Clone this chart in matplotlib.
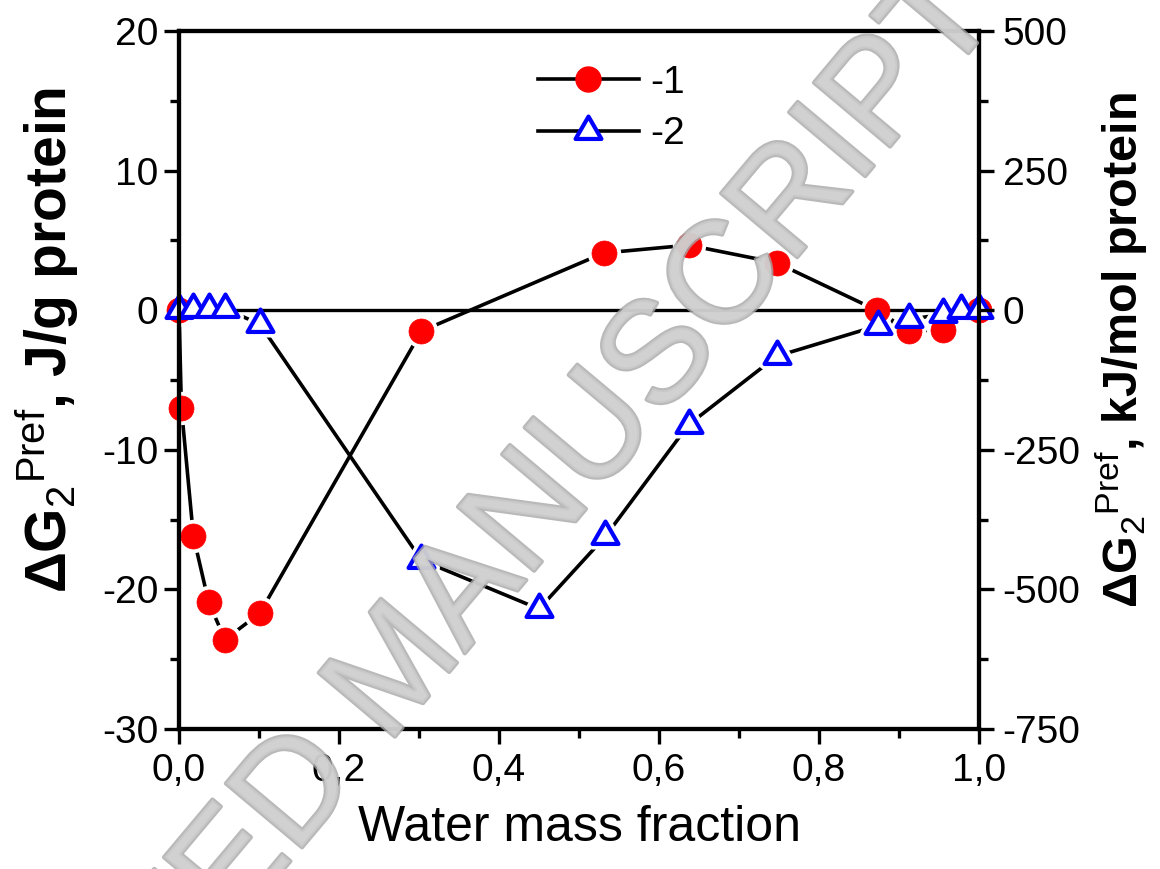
import matplotlib
matplotlib.use('Agg')
import matplotlib.pyplot as plt
import matplotlib.patheffects as pe
from matplotlib.path import Path
from matplotlib.ticker import MultipleLocator

plt.rcParams['font.family'] = ['Liberation Sans', 'DejaVu Sans']
plt.rcParams['mathtext.fontset'] = 'custom'
plt.rcParams['mathtext.rm'] = 'Liberation Sans'
plt.rcParams['mathtext.bf'] = 'Liberation Sans:bold'
plt.rcParams['mathtext.it'] = 'Liberation Sans:italic'
plt.rcParams['mathtext.sf'] = 'Liberation Sans'
plt.rcParams['axes.unicode_minus'] = False

# ---- data ----
x_series1 = [0.0, 0.003, 0.018, 0.037, 0.0575, 0.101, 0.303, 0.531, 0.637, 0.747, 0.872, 0.913, 0.955, 1.0]
y_series1 = [0.0, -7.0, -16.2, -20.9, -23.6, -21.7, -1.5, 4.1, 4.66, 3.4, 0.0, -1.5, -1.4, 0.0]

x_series2 = [0.0, 0.018, 0.037, 0.0575, 0.101, 0.303, 0.45, 0.533, 0.637, 0.747, 0.874, 0.913, 0.955, 0.978, 1.0]
y_series2 = [0.0, 0.1, 0.1, 0.1, -1.0, -17.9, -21.4, -16.2, -8.2, -3.3, -1.1, -0.65, -0.3, 0.0, 0.0]

series_labels = ['-1', '-2']

x_ticks = [0.0, 0.2, 0.4, 0.6, 0.8, 1.0]
x_tick_labels = ['0,0', '0,2', '0,4', '0,6', '0,8', '1,0']
y_left_ticks = [-30, -20, -10, 0, 10, 20]
y_right_ticks = [-750, -500, -250, 0, 250, 500]

x_label = 'Water mass fraction'
y_left_label = r'$\mathbf{\Delta G}_{\mathrm{2}}{}^{\mathrm{Pref}}$, J/g protein'
y_right_label = r'$\mathbf{\Delta G}_{\mathrm{2}}{}^{\mathrm{Pref}}$, kJ/mol protein'
watermark = 'ACCEPTED MANUSCRIPT'

# ---- figure ----
fig = plt.figure(figsize=(11.6, 8.69), dpi=100)
ax = fig.add_axes([179/1160, 1-729/869, 800/1160, 698/869])

tri = Path([(0, 1), (-0.866, -0.5), (0.866, -0.5), (0, 1)],
           [Path.MOVETO, Path.LINETO, Path.LINETO, Path.CLOSEPOLY])

# connecting lines
ax.plot(x_series1, y_series1, color='black', lw=2.6, zorder=2, clip_on=False)
ax.plot(x_series2, y_series2, color='black', lw=2.6, zorder=2, clip_on=False)
# white halos -> gaps between lines and symbols
ax.plot(x_series1, y_series1, ls='none', marker='o', ms=18, mfc='white', mec='white',
        mew=6, zorder=2.4, clip_on=False)
ax.plot(x_series2, y_series2, ls='none', marker=tri, ms=21.5, mfc='white', mec='white',
        mew=8, zorder=2.4, clip_on=False)
ax.axhline(0, color='black', lw=2.4, zorder=2.6)
# symbols
ax.plot(x_series1, y_series1, ls='none', marker='o', ms=18,
        mfc='red', mec='red', mew=0.5, zorder=3, clip_on=False)
ax.plot(x_series2, y_series2, ls='none', marker=tri, ms=21.5,
        mfc='white', mec='blue', mew=3, zorder=4, clip_on=False)

# legend proxies
ax.plot([], [], color='black', lw=2.6, marker='o', ms=18, mfc='red', mec='red',
        label=series_labels[0])
ax.plot([], [], color='black', lw=2.6, marker=tri, ms=21.5, mfc='white', mec='blue',
        mew=3, label=series_labels[1])

ax.set_xlim(0, 1)
ax.set_ylim(-30, 20)
ax.set_xticks(x_ticks)
ax.set_xticklabels(x_tick_labels)
ax.xaxis.set_minor_locator(MultipleLocator(0.1))
ax.set_yticks(y_left_ticks)
ax.yaxis.set_minor_locator(MultipleLocator(5))

for s in ax.spines.values():
    s.set_linewidth(3)

ax.tick_params(axis='both', which='major', direction='out', length=11, width=2.4,
               labelsize=28, top=False, right=False)
ax.tick_params(axis='both', which='minor', direction='out', length=6.5, width=2.4,
               top=False, right=False)
ax.tick_params(axis='x', which='major', pad=6)
ax.tick_params(axis='y', which='major', pad=4)

ax2 = ax.twinx()
ax2.set_ylim(-750, 500)
ax2.set_yticks(y_right_ticks)
ax2.yaxis.set_minor_locator(MultipleLocator(125))
for s in ax2.spines.values():
    s.set_linewidth(3)
ax2.tick_params(axis='y', which='major', direction='out', length=11, width=2.4,
                labelsize=28, pad=6)
ax2.tick_params(axis='y', which='minor', direction='out', length=6.5, width=2.4)

ax.set_xlabel(x_label, fontsize=36, labelpad=12)
ax.set_ylabel(y_left_label, fontsize=41, fontweight='bold')
ax.yaxis.set_label_coords(-0.122, 0.557)
ax2.set_ylabel(y_right_label, fontsize=35, fontweight='bold', rotation=90)
ax2.yaxis.set_label_coords(1.143, 0.543)

ax.legend(loc='center', bbox_to_anchor=(0.527, 0.875), bbox_transform=fig.transFigure,
          frameon=False, fontsize=28, handlelength=2.6, handletextpad=0.3,
          labelspacing=0.4, borderaxespad=0, numpoints=1)

fig.text(0.345, 0.2267, watermark, rotation=50, rotation_mode='anchor',
         ha='center', va='center', fontsize=104, color='#d0d0d0', alpha=0.8,
         zorder=10, path_effects=[pe.withStroke(linewidth=3, foreground='#a8a8a8')])

fig.savefig('out.png', dpi=100)
